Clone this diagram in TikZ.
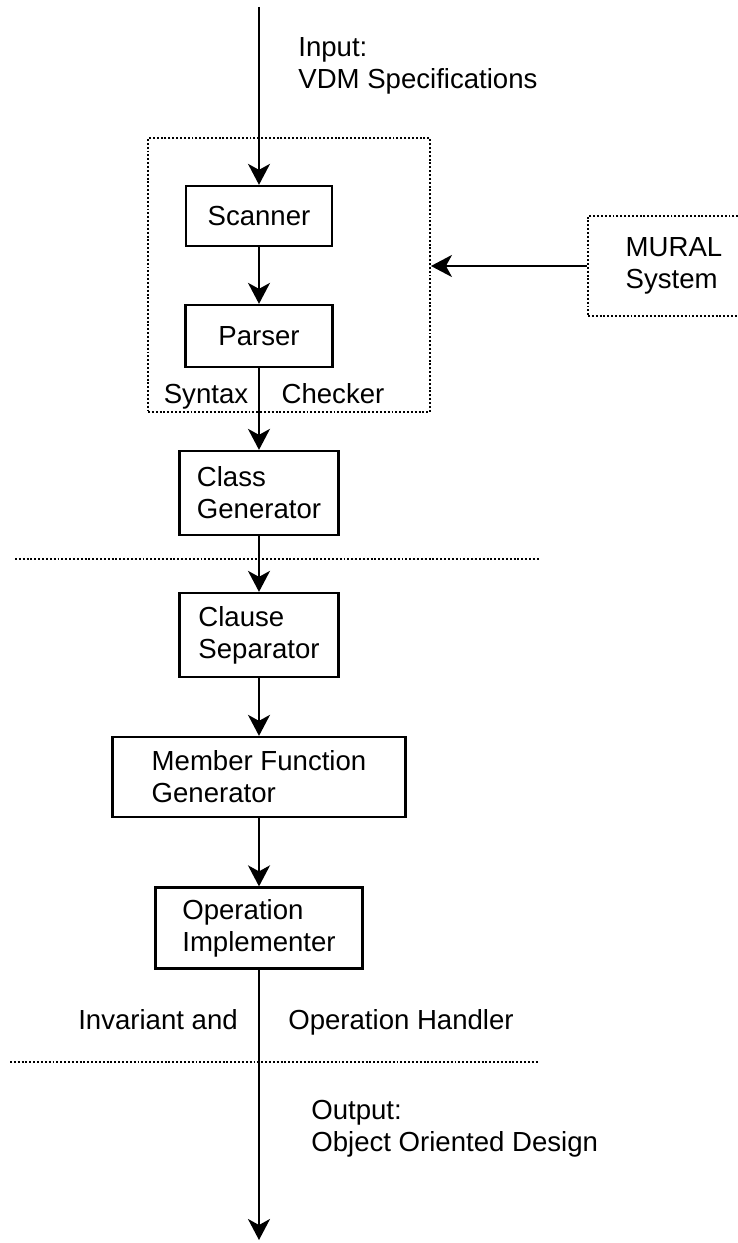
\documentclass[tikz,border=0pt]{standalone}
\usepackage{fontspec}
\setmainfont{Liberation Sans}
\usetikzlibrary{arrows.meta}

\begin{document}
\begin{tikzpicture}[x = 0.02cm, y = -0.02cm]
\tikzstyle{BoxStyle}=[
shape = rectangle,
draw,
line width = 1.3pt,
align = left,
inner sep = 0pt,
font = \fontsize{15.7}{18.2}\selectfont]
\tikzstyle{Label}=[
inner sep = 0pt,
align = left,
font = \fontsize{15.7}{18.2}\selectfont]
\tikzstyle{dots}=[line width = 1.1pt, dash pattern = on 1.1pt off 1.1pt]
\tikzstyle{flow}=[line width = 1.3pt, -{Stealth[length = 0.42cm, width = 0.44cm, inset = 0.12cm]}]
\useasboundingbox (0, 0) rectangle (737, 1243);
% syntax checker frame and the MURAL source
\node[dots, draw, minimum width = 5.64cm, minimum height = 5.48cm] (chk) at (289, 275) {};
\node[BoxStyle, dots, minimum width = 3.44cm, minimum height = 2.0cm] (mural) at (674, 266) {MURAL\\System};
% boxes down the spine
\node[BoxStyle, minimum width = 2.92cm, minimum height = 1.2cm] (scan) at (259, 216) {Scanner};
\node[BoxStyle, minimum width = 2.94cm, minimum height = 1.24cm] (pars) at (259, 336) {Parser};
\node[BoxStyle, minimum width = 3.18cm, minimum height = 1.68cm] (cls) at (259, 493) {Class\\Generator};
\node[BoxStyle, minimum width = 3.18cm, minimum height = 1.68cm] (clause) at (259, 635) {Clause\\Separator};
\node[BoxStyle, minimum width = 5.86cm, minimum height = 1.6cm] (mem) at (259, 777) {Member Function\\Generator};
\node[BoxStyle, minimum width = 4.14cm, minimum height = 1.62cm] (oper) at (259, 928) {Operation\\Implementer};
\coordinate (in) at (259, 7);
\coordinate (out) at (259, 1240);
% labels
\node[Label, anchor = west] (inlbl) at (298, 66) {Input:\\VDM Specifications};
\node[Label, anchor = base] (syn) at (206, 403) {Syntax};
\node[Label, anchor = base] (chklbl) at (333, 403) {Checker};
\node[Label, anchor = base] (inv) at (158, 1029) {Invariant and};
\node[Label, anchor = base] (hnd) at (401, 1029) {Operation Handler};
\node[Label, anchor = west] (outlbl) at (311, 1129) {Output:\\Object Oriented Design};
% separators
\draw[dots] (15, 559) -- (540, 559);
\draw[dots] (10, 1062) -- (538, 1062);
% flow
\draw[flow] (in) -- (scan);
\draw[flow] (scan) -- (pars);
\draw[flow] (pars) -- (cls);
\draw[flow] (cls) -- (clause);
\draw[flow] (clause) -- (mem);
\draw[flow] (mem) -- (oper);
\draw[flow] (oper) -- (out);
\draw[flow] (mural.west) -- (mural.west -| chk.east);
\end{tikzpicture}
\end{document}
